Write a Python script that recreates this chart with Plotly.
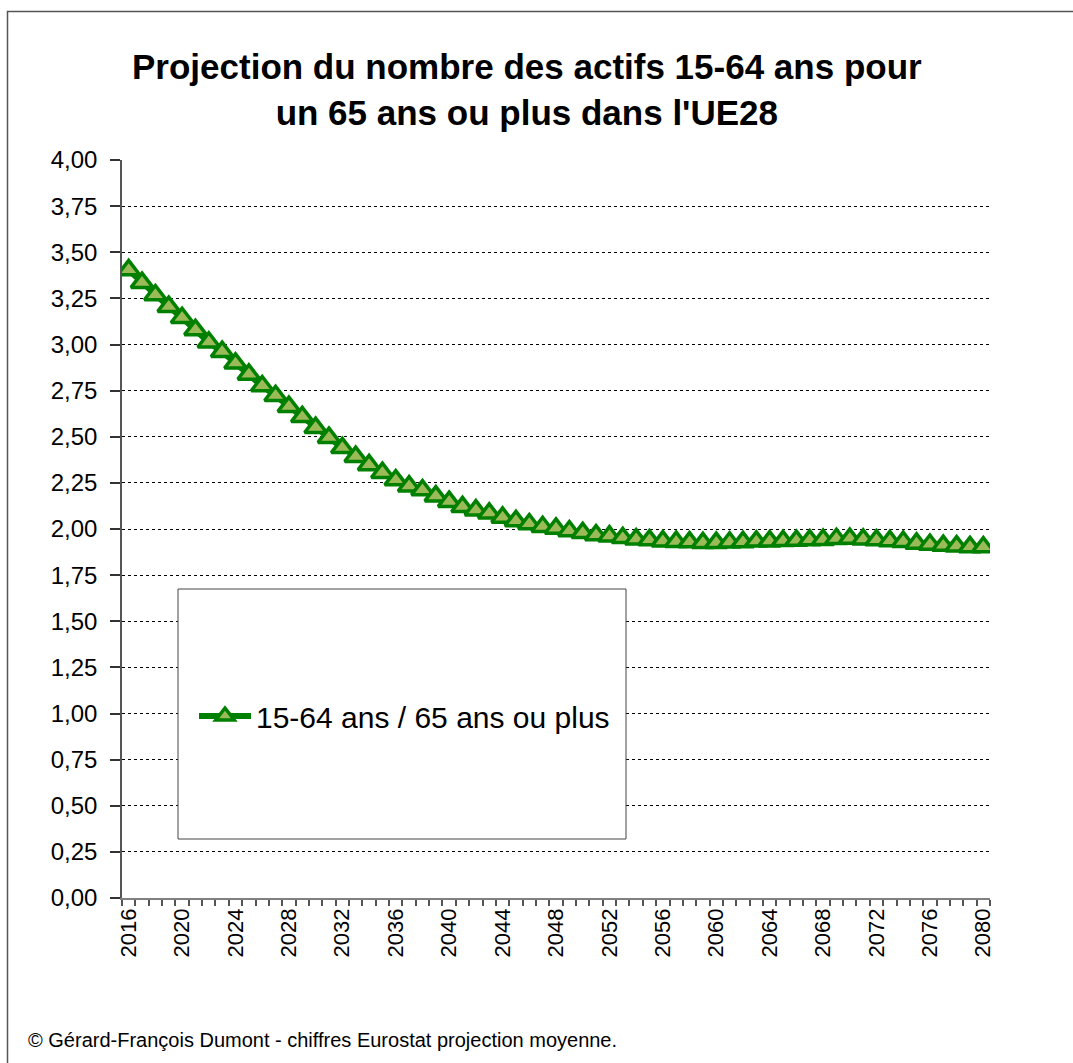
import plotly.graph_objects as go

years = list(range(2016, 2081))
ratio = [3.404, 3.335, 3.268, 3.205, 3.145, 3.079, 3.012, 2.961, 2.898, 2.838,
         2.775, 2.722, 2.663, 2.608, 2.549, 2.495, 2.440, 2.392, 2.347, 2.305,
         2.265, 2.232,
         2.211, 2.178, 2.148, 2.120, 2.102, 2.085, 2.063, 2.044, 2.027, 2.012,
         2.003, 1.989, 1.979, 1.967, 1.961, 1.952, 1.945, 1.940, 1.934, 1.931,
         1.929, 1.925, 1.926, 1.928, 1.930, 1.933, 1.934, 1.936, 1.937, 1.940,
         1.942, 1.947, 1.948, 1.944, 1.940, 1.935, 1.931, 1.922, 1.916, 1.910,
         1.907, 1.903, 1.902]
tick_years = [2016, 2020, 2024, 2028, 2032, 2036, 2040, 2044, 2048, 2052,
              2056, 2060, 2064, 2068, 2072, 2076, 2080]
boundaries = [y - 0.5 for y in years] + [years[-1] + 0.5]
series_name = "15-64 ans / 65 ans ou plus"
title_text = "Projection du nombre des actifs 15-64 ans pour<br>un 65 ans ou plus dans l'UE28"
footer_text = "© Gérard-François Dumont - chiffres Eurostat projection moyenne."

FONT = "Liberation Sans, Arial, sans-serif"
W, H = 1073, 1063
L, R, T, B = 122, 990, 160, 898
pw, ph = R - L, B - T

def px(x):
    return (x - L) / pw

def py(y):
    return (B - y) / ph

fig = go.Figure()
fig.add_trace(go.Scatter(
    x=years, y=ratio, name=series_name, mode="lines+markers",
    line=dict(color="#008000", width=6),
    marker=dict(symbol="triangle-up", size=19, color="#9BBB59",
                line=dict(color="#008000", width=3.5)),
    showlegend=True,
))

fig.update_layout(
    width=W, height=H,
    margin=dict(l=L, r=W - R, t=T, b=H - B, pad=0),
    paper_bgcolor="white", plot_bgcolor="white",
    separators=", ",
    font=dict(family=FONT, color="black"),
    showlegend=True,
    legend=dict(x=px(194), y=py(716), xanchor="left", yanchor="middle",
                bgcolor="rgba(0,0,0,0)", borderwidth=0,
                font=dict(size=30, family=FONT, color="black"),
                itemwidth=52),
    xaxis=dict(
        range=[2015.5, 2080.5], tickmode="array", tickvals=tick_years,
        ticktext=[str(v) for v in tick_years], tickangle=-90, ticks="",
        tickfont=dict(size=22, family=FONT, color="black"),
        showgrid=False, zeroline=False, showline=True, linecolor="#808080",
        linewidth=1.5,
        minor=dict(tickmode="array", tickvals=boundaries, ticks="outside",
                   ticklen=6, tickcolor="#555555", tickwidth=1.5, showgrid=False),
    ),
    yaxis=dict(
        range=[0, 4], dtick=0.25, tick0=0, tickformat=".2f",
        ticks="outside", ticklen=10, tickcolor="#333333", tickwidth=1.5,
        ticklabelstandoff=8,
        tickfont=dict(size=24, family=FONT, color="black"),
        showgrid=True, gridcolor="black", griddash="dot", gridwidth=1,
        zeroline=False, showline=True, linecolor="#555555", linewidth=1.5,
    ),
    shapes=[
        dict(type="rect", xref="paper", yref="paper",
             x0=px(178), x1=px(626), y0=py(839), y1=py(589),
             line=dict(color="#444444", width=1), fillcolor="white", layer="above"),
        dict(type="rect", xref="paper", yref="paper",
             x0=px(7.5), x1=px(1090), y0=py(1090), y1=py(11.5),
             line=dict(color="#555555", width=1.5), fillcolor="rgba(0,0,0,0)",
             layer="above"),
    ],
    annotations=[
        dict(text="<b>" + title_text + "</b>", xref="paper", yref="paper",
             x=px(527), y=py(89), xanchor="center", yanchor="middle",
             showarrow=False, font=dict(size=35, family=FONT, color="black")),
        dict(text=footer_text, xref="paper", yref="paper",
             x=px(26), y=py(1040), xanchor="left", yanchor="middle",
             showarrow=False, font=dict(size=20, family=FONT, color="black")),
    ],
)

fig.write_html(
    "out.html",
    config={"displayModeBar": False},
    post_script="document.body.style.margin='0px';document.body.style.overflow='hidden';",
)
